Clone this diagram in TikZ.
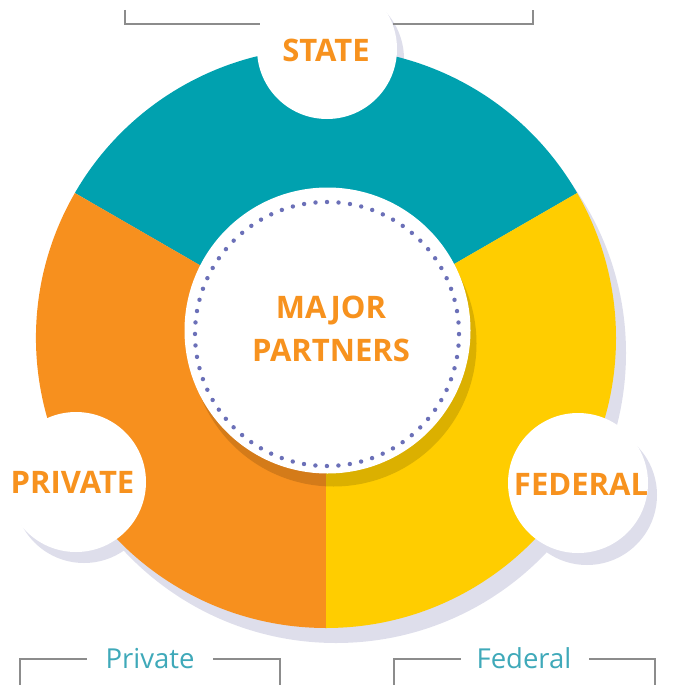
\documentclass[tikz,border=0pt]{standalone}
\usepackage{fontspec}
\setmainfont{Open Sans}
\definecolor{segteal}{HTML}{00A1AF}
\definecolor{segorange}{HTML}{F7901E}
\definecolor{segyellow}{HTML}{FFCD00}
\definecolor{shadowlav}{HTML}{DEDEEB}
\definecolor{titleorange}{HTML}{F7921E}
\definecolor{labelteal}{HTML}{3FA9B9}
\definecolor{dotblue}{HTML}{6B70B8}
\definecolor{bracketgray}{HTML}{8C8C8C}
\tikzset{
  smallcirc/.style={fill=white, circle, minimum size=140pt, inner sep=0pt},
  circshadow/.style={fill=shadowlav},
  titletext/.style={text=titleorange, font=\fontsize{31}{42.5}\selectfont\bfseries, inner sep=0pt},
  lbltext/.style={text=labelteal, font=\fontsize{27.5}{33}\selectfont, inner sep=0pt, anchor=base},
  bracketline/.style={draw=bracketgray, line width=1.6pt},
}
\begin{document}
\begin{tikzpicture}[x=1pt,y=1pt]
\useasboundingbox (0,0) rectangle (676,-685);
% coordinates
\coordinate (C) at (326,-338);
\coordinate (I) at (327.5,-330.5);
% shadows beneath the disc
\fill[shadowlav] (336,-353) circle (290pt);
\fill[circshadow] (334,-59) circle (70pt);
\fill[circshadow] (84,-493) circle (70pt);
\fill[circshadow] (587,-495) circle (70pt);
% segments
\fill[segteal] (C) -- ++(30:290pt) arc[start angle=30, end angle=150, radius=290pt] -- cycle;
\fill[segorange] (C) -- ++(150:290pt) arc[start angle=150, end angle=270, radius=290pt] -- cycle;
\fill[segyellow] (C) -- ++(270:290pt) arc[start angle=270, end angle=390, radius=290pt] -- cycle;
% inner circle shadow and circle
\fill[black, opacity=0.14] (333.5,-343.5) circle (143pt);
\fill[white] (I) circle (143pt);
\draw[dotblue, line width=4.4pt, line cap=round, dash pattern=on 0pt off 11.519pt] (327,-334) circle (132pt);
\node[titletext, align=center] (major) at (331,-329) {MAJOR\\PARTNERS};
% small circles
\node[smallcirc] (statec) at (327,-49) {};
\node[smallcirc] (privc) at (76,-482) {};
\node[smallcirc] (fedc) at (578,-483) {};
\node[titletext, anchor=base] (statet) at (326,-62) {STATE};
\node[titletext, anchor=base] (privt) at (72.5,-493.5) {PRIVATE};
\node[titletext, anchor=base] (fedt) at (581,-495) {FEDERAL};
% brackets
\draw[bracketline] (125,-10) -- (125,-24) -- (260,-24);
\draw[bracketline] (393,-24) -- (533,-24) -- (533,-10);
\node[lbltext] (privl) at (150,-668) {Private};
\node[lbltext] (fedl) at (524,-668) {Federal};
\draw[bracketline] (20,-690) -- (20,-659) -- (87,-659);
\draw[bracketline] (213,-659) -- (280,-659) -- (280,-690);
\draw[bracketline] (394,-690) -- (394,-659) -- (461,-659);
\draw[bracketline] (589,-659) -- (655,-659) -- (655,-690);
\end{tikzpicture}
\end{document}
